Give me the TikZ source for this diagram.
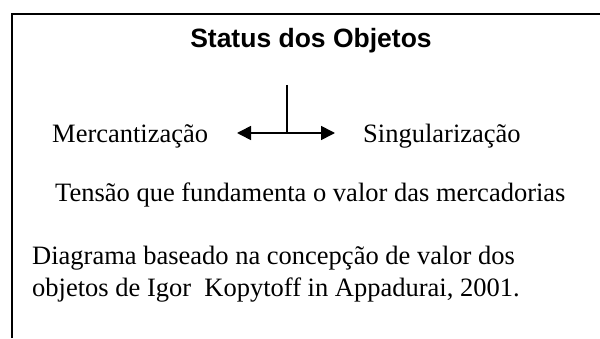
\documentclass[tikz,border=0pt]{standalone}
\usepackage{fontspec}
\setmainfont{Liberation Serif}
\newfontfamily\titlefont{Liberation Sans}
\usetikzlibrary{arrows.meta}
\begin{document}
\begin{tikzpicture}[x=1pt,y=1pt,
  txt/.style={inner sep=0pt, anchor=base west, font=\fontsize{26.5}{32}\selectfont},
  border/.style={line width=1.6pt},
  conn/.style={line width=1.6pt},
  tip/.style={Triangle[length=14pt,width=14pt]}]
\useasboundingbox (0,0) rectangle (600,338);
\fill[white] (0,0) rectangle (600,338);
\coordinate (bl) at (12,0);
\coordinate (tl) at (12,324);
\coordinate (tr) at (600,324);
\draw[border] (bl) -- (tl) -- (tr);
\node[inner sep=0pt, anchor=base, font=\titlefont\bfseries\fontsize{26.5}{32}\selectfont] (title) at (311,290) {Status dos Objetos};
\node[txt] (merc) at (52,196) {Mercantização};
\node[txt] (sing) at (363,196) {Singularização};
\node[txt] (tens) at (55,137) {Tensão que fundamenta o valor das mercadorias};
\node[txt] (diag1) at (32,74) {Diagrama baseado na concepção de valor dos};
\node[txt] (diag2) at (32,42) {objetos de Igor\ \ Kopytoff in Appadurai, 2001.};
\coordinate (L) at (237,205);
\coordinate (R) at (335,205);
\coordinate (T) at (287,253);
\coordinate (M) at (287,205);
\draw[conn, {Triangle[length=14pt,width=14pt]}-{Triangle[length=14pt,width=14pt]}] (L) -- (R);
\draw[conn] (T) -- (M);
\end{tikzpicture}
\end{document}
